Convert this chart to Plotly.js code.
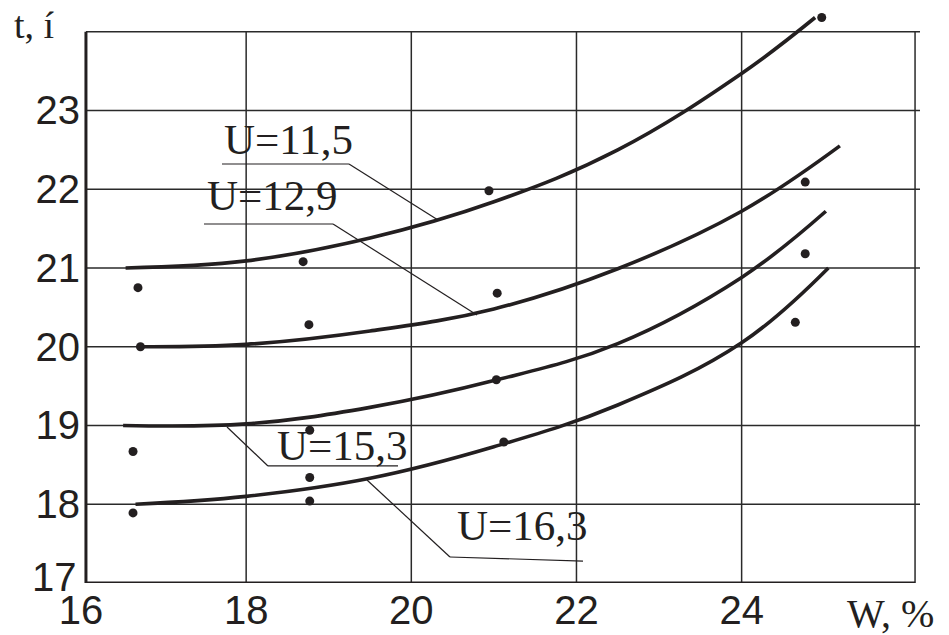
<!DOCTYPE html>
<html><head><meta charset="utf-8">
<script src="https://cdn.plot.ly/plotly-3.0.1.min.js"></script>
<style>body{margin:0;background:#fff}#chart{width:949px;height:635px}</style>
</head><body><div id="chart"></div>
<script>
// ---- data ----
const seriesNames = ['U=11,5', 'U=12,9', 'U=15,3', 'U=16,3'];

const curveU115W = [16.54, 18.0, 19.5, 21.0, 22.5, 24.0, 24.89];
const curveU115T = [21.0, 21.09, 21.38, 21.84, 22.5, 23.47, 24.18];

const curveU129W = [16.72, 18.0, 19.5, 21.0, 22.5, 24.0, 25.19];
const curveU129T = [20.0, 20.03, 20.2, 20.48, 20.99, 21.72, 22.55];

const curveU153W = [16.51, 18.0, 19.5, 21.0, 22.5, 24.0, 25.02];
const curveU153T = [19.0, 19.02, 19.23, 19.57, 20.04, 20.88, 21.72];

const curveU163W = [16.66, 18.0, 19.5, 21.0, 22.5, 24.0, 25.05];
const curveU163T = [18.0, 18.1, 18.33, 18.73, 19.26, 20.05, 21.0];

const pointsW = [16.69, 16.72, 16.63, 16.63, 18.69, 18.76, 18.77, 18.77, 18.77, 20.94, 21.04, 21.03, 21.12, 24.97, 24.77, 24.77, 24.65];
const pointsT = [20.75, 20.0, 18.67, 17.89, 21.08, 20.28, 18.94, 18.34, 18.04, 21.98, 20.68, 19.58, 18.79, 24.18, 22.09, 21.18, 20.31];

const xTickVals = [16, 18, 20, 22, 24];
const xTickText = ['16', '18', '20', '22', '24'];
const yTickVals = [18, 19, 20, 21, 22, 23];
const yTickText = ['18', '19', '20', '21', '22', '23'];
const yBottomLabel = '17';
const xAxisTitle = 'W, %';
const yAxisTitle = 't, í';

// label callouts: text anchor, underline and leader end, in data units
const labelTextW = [17.707, 17.502, 18.349, 20.529];
const labelTextT = [22.422, 21.711, 18.536, 17.521];
const underlineStartW = [17.707, 17.489, 18.264, 20.468];
const underlineStartT = [22.320, 21.558, 18.486, 17.330];
const underlineEndW = [19.245, 19.052, 19.839, 22.079];
const underlineEndT = [22.320, 21.558, 18.486, 17.279];
const leaderFromW = [19.245, 19.052, 18.264, 20.468];
const leaderFromT = [22.320, 21.558, 18.486, 17.330];
const leaderToW = [20.323, 20.795, 17.768, 19.463];
const leaderToT = [21.609, 20.403, 18.981, 18.308];

// frame
const frameLeft = 16.06, frameRight = 26.1, frameBottom = 17, frameTop = 24, gridRight = 26.16;
const vGrid = [18, 20, 22, 24];
const hGrid = [18, 19, 20, 21, 22, 23];

// ---- drawing ----
const ink = '#231f20';
const curves = [[curveU115W, curveU115T], [curveU129W, curveU129T], [curveU153W, curveU153T], [curveU163W, curveU163T]];
const traces = curves.map((c, i) => ({
  x: c[0], y: c[1], name: seriesNames[i], type: 'scatter', mode: 'lines',
  line: {shape: 'spline', smoothing: 1.1, color: ink, width: 3.6},
  hoverinfo: 'skip', showlegend: false
}));
traces.push({
  x: pointsW, y: pointsT, type: 'scatter', mode: 'markers', name: 'data',
  marker: {color: ink, size: 9}, cliponaxis: false, showlegend: false, hoverinfo: 'skip'
});

const shapes = [];
vGrid.forEach(v => shapes.push({type: 'line', xref: 'x', yref: 'y', x0: v, x1: v, y0: frameBottom, y1: frameTop, line: {color: '#2a2a2a', width: 1.5}, layer: 'below'}));
hGrid.forEach(v => shapes.push({type: 'line', xref: 'x', yref: 'y', x0: frameLeft, x1: gridRight, y0: v, y1: v, line: {color: '#2a2a2a', width: 1.5}, layer: 'below'}));
shapes.push({type: 'line', xref: 'x', yref: 'y', x0: frameLeft, x1: gridRight, y0: frameTop, y1: frameTop, line: {color: '#2a2a2a', width: 1.5}, layer: 'below'});
shapes.push({type: 'line', xref: 'x', yref: 'y', x0: frameRight, x1: frameRight, y0: frameBottom, y1: frameTop, line: {color: '#2a2a2a', width: 1.5}, layer: 'below'});
shapes.push({type: 'line', xref: 'x', yref: 'y', x0: frameLeft, x1: frameLeft, y0: frameBottom, y1: frameTop, line: {color: ink, width: 3}});
shapes.push({type: 'line', xref: 'x', yref: 'y', x0: frameLeft, x1: frameRight, y0: frameBottom, y1: frameBottom, line: {color: ink, width: 3}});
for (let i = 0; i < seriesNames.length; i++) {
  shapes.push({type: 'line', xref: 'x', yref: 'y', x0: underlineStartW[i], y0: underlineStartT[i], x1: underlineEndW[i], y1: underlineEndT[i], line: {color: ink, width: 1.2}});
  shapes.push({type: 'line', xref: 'x', yref: 'y', x0: leaderFromW[i], y0: leaderFromT[i], x1: leaderToW[i], y1: leaderToT[i], line: {color: ink, width: 1.2}});
}

const serif = 'Liberation Serif, Times New Roman, serif';
const sans = 'Liberation Sans, Arial, sans-serif';
const annotations = seriesNames.map((n, i) => ({
  text: n, x: labelTextW[i], y: labelTextT[i], xref: 'x', yref: 'y',
  xanchor: 'left', yanchor: 'bottom', yshift: -9, showarrow: false,
  font: {family: serif, size: 43, color: ink}
}));
annotations.push({text: yBottomLabel, xref: 'paper', yref: 'y', x: 0, y: 17, xanchor: 'right', yanchor: 'middle', xshift: -2, yshift: 6, showarrow: false, font: {family: sans, size: 40, color: ink}});
annotations.push({text: yAxisTitle, xref: 'paper', yref: 'paper', x: -0.082, y: 1.0, xanchor: 'left', yanchor: 'top', yshift: 10, showarrow: false, font: {family: serif, size: 38, color: ink}});
annotations.push({text: xAxisTitle, xref: 'paper', yref: 'paper', x: 0.911, y: 0, xanchor: 'left', yanchor: 'top', yshift: -6, showarrow: false, font: {family: serif, size: 40, color: ink}});

const layout = {
  width: 949, height: 635,
  margin: {l: 81, r: 29, t: 12, b: 52},
  paper_bgcolor: '#fff', plot_bgcolor: '#fff',
  showlegend: false, hovermode: false,
  xaxis: {range: [16, 26.16], tickvals: xTickVals, ticktext: xTickText, showgrid: false, zeroline: false, showline: false,
          ticks: '', tickfont: {family: sans, size: 40, color: ink}},
  yaxis: {range: [17, 24.25], tickvals: yTickVals, ticktext: yTickText, showgrid: false, zeroline: false, showline: false,
          ticks: '', tickfont: {family: sans, size: 40, color: ink}},
  shapes: shapes, annotations: annotations
};
Plotly.newPlot('chart', traces, layout, {staticPlot: true, displayModeBar: false});
</script></body></html>
